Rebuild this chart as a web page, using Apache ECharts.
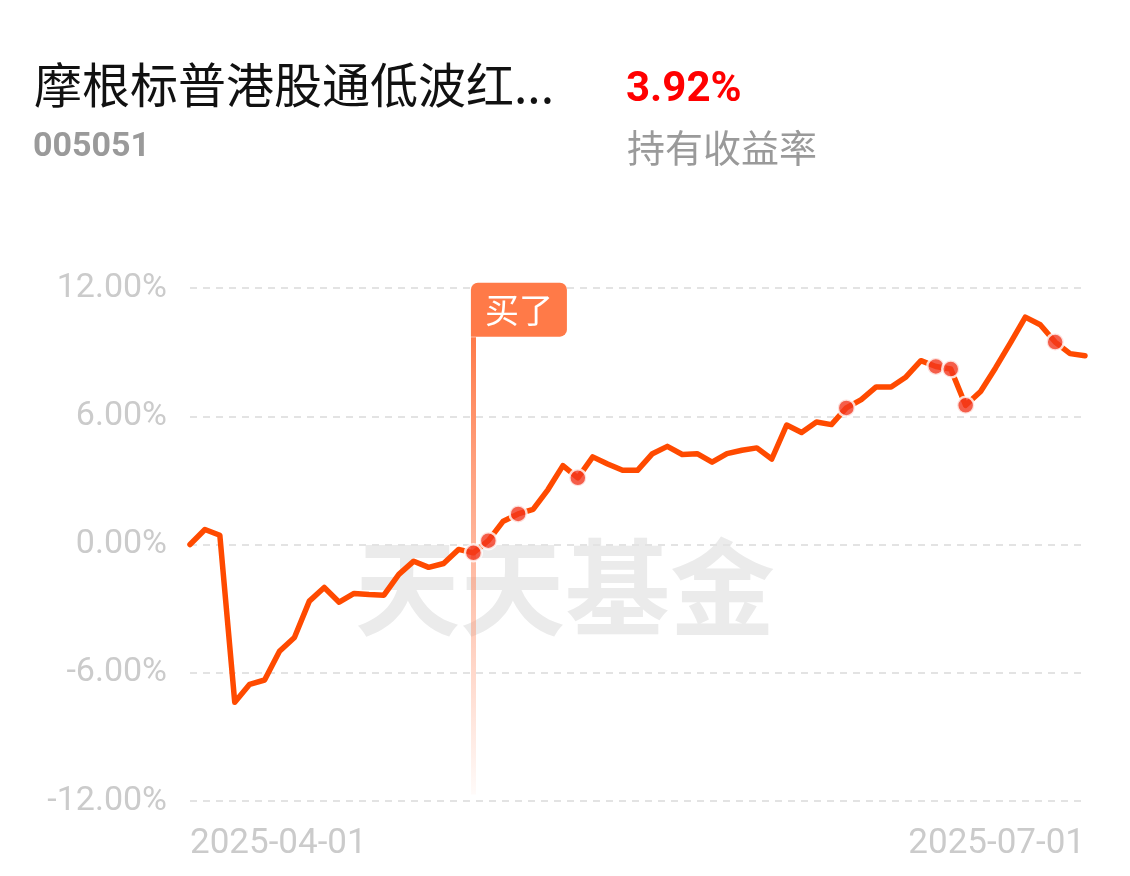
<!DOCTYPE html>
<html>
<head>
<meta charset="utf-8">
<script src="https://cdn.jsdelivr.net/npm/echarts@6/dist/echarts.min.js"></script>
<style>
html,body{margin:0;padding:0;background:#fff;}
#chart{width:1130px;height:876px;}
</style>
</head>
<body>
<div id="chart"></div>
<script>
const dates = [
  '2025-04-01','2025-04-02','2025-04-03','2025-04-07','2025-04-08','2025-04-09','2025-04-10','2025-04-11',
  '2025-04-14','2025-04-15','2025-04-16','2025-04-17','2025-04-18','2025-04-21','2025-04-22','2025-04-23',
  '2025-04-24','2025-04-25','2025-04-28','2025-04-29','2025-04-30',
  '2025-05-06','2025-05-07','2025-05-08','2025-05-09','2025-05-12','2025-05-13','2025-05-14','2025-05-15',
  '2025-05-16','2025-05-19','2025-05-20','2025-05-21','2025-05-22','2025-05-23','2025-05-26','2025-05-27',
  '2025-05-28','2025-05-29','2025-05-30',
  '2025-06-03','2025-06-04','2025-06-05','2025-06-06','2025-06-09','2025-06-10','2025-06-11','2025-06-12',
  '2025-06-13','2025-06-16','2025-06-17','2025-06-18','2025-06-19','2025-06-20','2025-06-23','2025-06-24',
  '2025-06-25','2025-06-26','2025-06-27','2025-06-30','2025-07-01'
];
const returns = [
  0.00, 0.70, 0.43, -7.38, -6.54, -6.34, -4.99, -4.35, -2.65, -2.01, -2.70, -2.29, -2.34, -2.37, -1.40, -0.78,
  -1.07, -0.89, -0.23, -0.39, 0.18,
  1.09, 1.43, 1.64, 2.57, 3.69, 3.12, 4.10, 3.77, 3.47, 3.47, 4.25, 4.59, 4.21, 4.25, 3.85, 4.25, 4.41, 4.52, 4.00,
  5.59, 5.24, 5.73, 5.61, 6.39, 6.78, 7.37, 7.37, 7.84, 8.60, 8.33, 8.21, 6.51, 7.16, 8.26, 9.43, 10.64, 10.28,
  9.47, 8.93, 8.83
];
const tradeIdx = [19, 20, 22, 26, 44, 50, 51, 52, 58];
const buyIdx = 19;
const buyFlagTop = 9.7;
const buyLineBottom = -11.7;
const yTicks = [-12, -6, 0, 6, 12];
const fundName = '摩根标普港股通低波红...';
const fundCode = '005051';
const holdReturn = '3.92%';
const holdLabel = '持有收益率';
const watermark = '天天基金';

const chart = echarts.init(document.getElementById('chart'), null, {renderer: 'canvas'});
const labelGray = '#cbcbcb';
const cjk = '"Noto Sans CJK SC", "Noto Sans", sans-serif';
const num = 'Roboto, "Noto Sans", sans-serif';

chart.setOption({
  animation: false,
  backgroundColor: '#fff',
  title: [
    {text: fundName, left: 29, top: 52, textStyle: {fontSize: 48, fontWeight: 'normal', color: '#111', fontFamily: cjk, lineHeight: 56}},
    {text: fundCode, left: 28, top: 122, textStyle: {fontSize: 34, fontWeight: 'bold', color: '#9a9a9a', fontFamily: num, lineHeight: 40}},
    {text: holdReturn, left: 621, top: 61, textStyle: {fontSize: 42, fontWeight: 'bold', color: '#ff0000', fontFamily: num, lineHeight: 48}},
    {text: holdLabel, left: 622, top: 120, textStyle: {fontSize: 38, fontWeight: 'normal', color: '#9a9a9a', fontFamily: cjk, lineHeight: 46}}
  ],
  graphic: [{
    type: 'text', left: 355, top: 535, z: 0, silent: true,
    style: {text: watermark, fontSize: 105, fontWeight: 'bold', fill: '#ebebeb', fontFamily: cjk}
  }],
  grid: {left: 190, right: 45, top: 288, bottom: 75, outerBoundsMode: 'none'},
  xAxis: {
    type: 'category',
    data: dates,
    boundaryGap: false,
    axisLine: {show: false},
    axisTick: {show: false},
    splitLine: {show: false},
    axisLabel: {
      interval: function (i) { return i === 0 || i === dates.length - 1; },
      alignMinLabel: 'left',
      alignMaxLabel: 'right',
      color: labelGray,
      fontSize: 35,
      fontFamily: num,
      margin: 26
    }
  },
  yAxis: {
    type: 'value',
    min: yTicks[0],
    max: yTicks[yTicks.length - 1],
    interval: 6,
    axisLine: {show: false},
    axisTick: {show: false},
    axisLabel: {
      formatter: function (v) { return v.toFixed(2) + '%'; },
      color: labelGray,
      fontSize: 34,
      fontFamily: num,
      margin: 23
    },
    splitLine: {show: true, lineStyle: {color: '#e3e3e3', width: 2, type: [7, 6]}}
  },
  series: [
    {
      type: 'line',
      data: returns,
      symbol: 'none',
      z: 3,
      lineStyle: {color: '#ff4a00', width: 5.5, join: 'round', cap: 'round'},
      markLine: {
        silent: true,
        symbol: ['none', 'none'],
        label: {show: false},
        z: 1,
        lineStyle: {
          type: 'solid',
          width: 5,
          color: new echarts.graphic.LinearGradient(0, 0, 0, 1, [
            {offset: 0, color: 'rgba(255,122,72,1)'},
            {offset: 0.5, color: 'rgba(255,140,100,0.6)'},
            {offset: 1, color: 'rgba(255,140,100,0.03)'}
          ])
        },
        data: [[{coord: [dates[buyIdx], buyFlagTop]}, {coord: [dates[buyIdx], buyLineBottom]}]]
      },
      markPoint: {
        silent: true,
        symbol: 'rect',
        symbolSize: 1,
        itemStyle: {color: 'rgba(0,0,0,0)'},
        label: {
          show: true,
          formatter: '买了',
          position: [-2, 0],
          align: 'left',
          verticalAlign: 'bottom',
          backgroundColor: '#ff7a48',
          borderRadius: [7, 7, 7, 0],
          padding: [7, 14, 7, 14],
          color: '#fff',
          fontSize: 34,
          lineHeight: 40,
          fontFamily: cjk
        },
        data: [{coord: [dates[buyIdx], buyFlagTop]}]
      }
    },
    {
      type: 'scatter',
      z: 4,
      data: tradeIdx.map(function (i) { return [dates[i], returns[i]]; }),
      symbol: 'circle',
      symbolSize: 17,
      itemStyle: {color: '#f2361d', borderColor: '#fff', borderWidth: 2.5}
    }
  ]
});
</script>
</body>
</html>
